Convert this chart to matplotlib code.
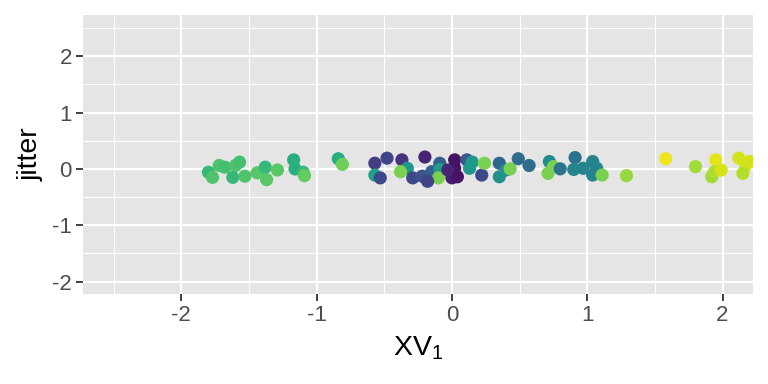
import numpy as np
import matplotlib
matplotlib.use("Agg")
import matplotlib.pyplot as plt

plt.rcParams['font.family'] = ['Liberation Sans', 'DejaVu Sans']
plt.rcParams['mathtext.fontset'] = 'custom'
plt.rcParams['mathtext.rm'] = 'Liberation Sans'
plt.rcParams['mathtext.it'] = 'Liberation Sans'
plt.rcParams['axes.unicode_minus'] = False

# XV_1 values, jitter values and colour value (0..1 on viridis)
xv1 = [-1.80, -1.77, -1.72, -1.68, -1.60, -1.57, -1.62, -1.53, -1.44, -1.38,
       -1.37, -1.29, -1.17, -1.16, -1.10, -1.09, -0.84, -0.81,
       -0.57, -0.48, -0.57, -0.53, -0.37, -0.33, -0.38, -0.20, -0.29, -0.22,
       -0.15, -0.09, -0.09, -0.10, -0.18, 0.02, 0.02, 0.00, 0.04, -0.03,
       0.11, 0.13, 0.15, 0.22, 0.24, 0.35, 0.35, 0.40, 0.43, 0.49, 0.57,
       0.72, 0.75, 0.71, 0.80, 0.91, 0.90, 0.97, 1.04, 1.07, 1.04, 1.11,
       1.29, 1.58, 1.80, 1.95, 1.92, 1.94, 1.99, 2.12, 2.17, 2.15, 2.20]
jitter = [-0.06, -0.15, 0.06, 0.03, 0.06, 0.12, -0.15, -0.13, -0.07, 0.03,
          -0.19, -0.02, 0.16, 0.00, -0.06, -0.12, 0.18, 0.08,
          0.10, 0.19, -0.11, -0.16, 0.16, 0.01, -0.05, 0.21, -0.16, -0.13,
          -0.05, 0.10, -0.01, -0.16, -0.22, 0.16, 0.01, -0.16, -0.14, -0.02,
          0.16, 0.01, 0.12, -0.11, 0.10, 0.10, -0.14, -0.02, 0.00, 0.18, 0.06,
          0.13, 0.04, -0.08, 0.00, 0.20, -0.01, 0.01, 0.13, 0.01, -0.11, -0.11,
          -0.12, 0.18, 0.04, 0.16, -0.14, -0.05, -0.02, 0.19, 0.06, -0.08, 0.13]
colour = [0.67, 0.72, 0.72, 0.70, 0.72, 0.70, 0.67, 0.72, 0.74, 0.67,
          0.74, 0.74, 0.63, 0.63, 0.67, 0.76, 0.62, 0.78,
          0.18, 0.20, 0.57, 0.22, 0.15, 0.52, 0.80, 0.10, 0.22, 0.25,
          0.30, 0.30, 0.54, 0.80, 0.20, 0.05, 0.05, 0.08, 0.05, 0.10,
          0.28, 0.52, 0.54, 0.22, 0.80, 0.33, 0.50, 0.50, 0.80, 0.35, 0.35,
          0.48, 0.80, 0.80, 0.38, 0.38, 0.45, 0.45, 0.45, 0.45, 0.45, 0.80,
          0.84, 0.98, 0.86, 0.96, 0.86, 0.88, 0.94, 0.93, 0.93, 0.89, 0.93]

xticks = [-2, -1, 0, 1, 2]
yticks = [-2, -1, 0, 1, 2]

fig = plt.figure(figsize=(7.68, 3.84), dpi=100)
ax = fig.add_axes([83 / 768, 1 - 294 / 384, 670 / 768, 279 / 384])
ax.set_facecolor('#E5E5E5')

ax.scatter(xv1, jitter, c=colour, cmap='viridis', vmin=0, vmax=1,
           s=90, linewidths=0, zorder=3, clip_on=True)

ax.set_xlim(-2.727, 2.225)
ax.set_ylim(-2.22, 2.73)
ax.set_xticks(xticks)
ax.set_yticks(yticks)
ax.set_xticks([-2.5, -1.5, -0.5, 0.5, 1.5], minor=True)
ax.set_yticks([-1.5, -0.5, 0.5, 1.5, 2.5], minor=True)
ax.grid(True, which='major', color='white', linewidth=1.6, zorder=1)
ax.grid(True, which='minor', color='white', linewidth=0.8, zorder=1)
ax.set_axisbelow(True)
for s in ax.spines.values():
    s.set_visible(False)

ax.tick_params(which='major', length=5, width=1.3, color='#333333',
               labelsize=16, labelcolor='#4D4D4D', pad=3)
ax.tick_params(which='minor', length=0)

ax.set_xlabel(r'XV$_1$', fontsize=20.5, color='black', labelpad=6)
ax.set_ylabel('jitter', fontsize=20.5, color='black', labelpad=6)

fig.savefig('out.png', dpi=100)
